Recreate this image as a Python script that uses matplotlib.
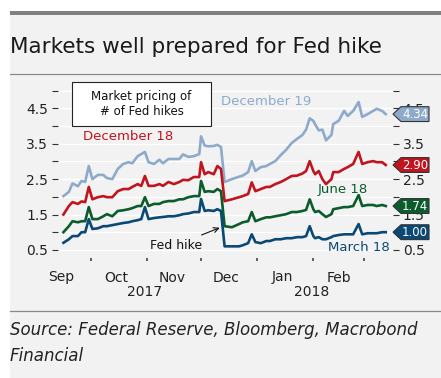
import numpy as np
import pandas as pd
import matplotlib
matplotlib.use('Agg')
import matplotlib.pyplot as plt
import matplotlib.dates as mdates
from matplotlib.patches import Polygon, Rectangle
from matplotlib.lines import Line2D
import matplotlib.transforms as mtransforms

# data
dates = pd.to_datetime([
    '2017-09-16', '2017-09-19', '2017-09-21', '2017-09-24', '2017-09-26', '2017-09-28',
    '2017-09-30', '2017-10-02', '2017-10-05', '2017-10-08', '2017-10-10', '2017-10-13',
    '2017-10-16', '2017-10-19', '2017-10-22', '2017-10-24', '2017-10-27', '2017-10-29',
    '2017-10-31', '2017-11-02', '2017-11-05', '2017-11-08', '2017-11-10', '2017-11-13',
    '2017-11-16', '2017-11-19', '2017-11-21', '2017-11-24', '2017-11-27', '2017-11-30',
    '2017-12-01', '2017-12-03', '2017-12-05', '2017-12-08', '2017-12-10', '2017-12-12',
    '2017-12-14', '2017-12-18', '2017-12-22', '2017-12-24', '2017-12-27', '2017-12-29',
    '2017-12-31', '2018-01-03', '2018-01-06', '2018-01-08', '2018-01-11', '2018-01-14',
    '2018-01-17', '2018-01-20', '2018-01-23', '2018-01-26', '2018-01-28', '2018-01-30',
    '2018-02-01', '2018-02-02', '2018-02-04', '2018-02-06', '2018-02-08', '2018-02-11',
    '2018-02-12', '2018-02-15', '2018-02-18', '2018-02-20', '2018-02-23', '2018-02-26',
    '2018-02-28', '2018-03-03', '2018-03-06', '2018-03-08', '2018-03-11', '2018-03-13',
])

dec19 = [2.02, 2.14, 2.38, 2.30, 2.45, 2.42, 2.87, 2.50, 2.62, 2.62, 2.53, 2.50,
         2.79, 2.93, 2.98, 2.95, 3.15, 3.21, 3.27, 2.98, 2.93, 3.05, 2.95, 3.07,
         3.07, 3.07, 3.20, 3.13, 3.15, 3.21, 3.71, 3.45, 3.43, 3.44, 3.47, 3.41,
         2.42, 2.50, 2.57, 2.60, 2.70, 3.01, 2.73, 2.84, 2.87, 2.93, 3.01, 3.18,
         3.33, 3.52, 3.64, 3.75, 3.90, 4.22, 4.15, 4.05, 3.88, 3.90, 3.60, 3.75,
         4.06, 4.15, 4.43, 4.29, 4.43, 4.68, 4.26, 4.34, 4.43, 4.49, 4.43, 4.34]

dec18 = [1.50, 1.74, 1.85, 1.80, 1.87, 1.85, 2.28, 1.93, 1.99, 2.02, 1.99, 1.99,
         2.16, 2.22, 2.22, 2.28, 2.36, 2.31, 2.59, 2.31, 2.31, 2.36, 2.31, 2.42,
         2.36, 2.42, 2.48, 2.47, 2.56, 2.56, 2.98, 2.64, 2.70, 2.64, 2.87, 2.79,
         1.88, 1.93, 1.99, 2.02, 2.08, 2.41, 2.16, 2.22, 2.28, 2.28, 2.36, 2.42,
         2.50, 2.59, 2.60, 2.66, 2.73, 3.01, 2.73, 2.64, 2.73, 2.50, 2.36, 2.50,
         2.70, 2.70, 2.79, 2.84, 2.93, 3.27, 2.93, 2.98, 3.01, 2.98, 2.98, 2.90]

jun18 = [1.00, 1.17, 1.31, 1.28, 1.31, 1.31, 1.71, 1.37, 1.37, 1.45, 1.51, 1.45,
         1.60, 1.62, 1.65, 1.68, 1.74, 1.74, 1.99, 1.74, 1.80, 1.80, 1.85, 1.88,
         1.88, 1.93, 1.93, 1.99, 2.02, 2.02, 2.45, 2.14, 2.16, 2.14, 2.22, 2.16,
         1.17, 1.14, 1.23, 1.28, 1.31, 1.57, 1.31, 1.37, 1.42, 1.42, 1.45, 1.48,
         1.51, 1.57, 1.57, 1.60, 1.63, 1.93, 1.65, 1.57, 1.60, 1.51, 1.43, 1.51,
         1.65, 1.68, 1.71, 1.71, 1.74, 2.05, 1.74, 1.77, 1.77, 1.74, 1.77, 1.74]

mar18 = [0.70, 0.80, 0.89, 0.89, 1.00, 1.00, 1.37, 1.09, 1.11, 1.17, 1.17, 1.20,
         1.23, 1.26, 1.28, 1.31, 1.34, 1.37, 1.71, 1.37, 1.40, 1.42, 1.43, 1.45,
         1.45, 1.48, 1.51, 1.53, 1.57, 1.57, 1.94, 1.60, 1.62, 1.60, 1.65, 1.60,
         0.60, 0.60, 0.60, 0.63, 0.69, 0.94, 0.72, 0.69, 0.75, 0.75, 0.80, 0.80,
         0.83, 0.83, 0.86, 0.86, 0.89, 1.17, 0.89, 0.83, 0.86, 0.80, 0.80, 0.86,
         0.89, 0.92, 0.94, 0.94, 0.94, 1.23, 0.94, 0.97, 0.97, 0.97, 1.00, 1.00]

series_names = ['December 19', 'December 18', 'June 18', 'March 18']
last_values = ['4.34', '2.90', '1.74', '1.00']
colors = ['#8eaacb', '#c0141e', '#0b5c2c', '#0a4876']

bg = '#f2f2f2'
fig = plt.figure(figsize=(4.41, 3.78), dpi=100)
fig.patch.set_facecolor('white')

# panel background, top bar, separators
fig.patches.append(Rectangle((10 / 441, 0), 1, 1 - 15 / 378, transform=fig.transFigure,
                             facecolor=bg, edgecolor='none', zorder=-10))
fig.patches.append(Rectangle((10 / 441, 1 - 15 / 378), 1, 4 / 378, transform=fig.transFigure,
                             facecolor='#808080', edgecolor='none', zorder=-10))
for yy in [1 - 74 / 378, 1 - 311 / 378]:
    fig.add_artist(Line2D([10 / 441, 1], [yy, yy], color='#8a8a8a', lw=0.9,
                          transform=fig.transFigure, zorder=-5))

fig.text(10 / 441, 1 - 47 / 378, 'Markets well prepared for Fed hike', fontsize=15.5,
         color='#1a1a1a', va='center', ha='left')
fig.text(10 / 441, 1 - 330 / 378, 'Source: Federal Reserve, Bloomberg, Macrobond',
         fontsize=12, style='italic', color='#222222', va='center', ha='left')
fig.text(10 / 441, 1 - 356 / 378, 'Financial', fontsize=12, style='italic',
         color='#222222', va='center', ha='left')

ax = fig.add_axes([58 / 441, 1 - 258 / 378, 335 / 441, 169 / 378])
ax.set_facecolor(bg)
for s in ax.spines.values():
    s.set_visible(False)

for vals, c in zip([dec19, dec18, jun18, mar18], colors):
    ax.plot(dates, vals, color=c, lw=1.9, solid_joinstyle='round', zorder=3)

ax.set_xlim(pd.Timestamp('2017-09-13'), pd.Timestamp('2018-03-17'))
ax.set_ylim(0.27, 5.05)

# y axis on both sides
yt = np.arange(0.5, 5.01, 0.5)
ax.set_yticks(yt)
ax.set_yticklabels(['%.1f' % v if (v * 2) % 2 == 1 else '' for v in yt])
ax.tick_params(axis='y', which='both', length=4, width=0.8, color='#333333',
               labelsize=10, labelcolor='#222222', left=True, right=True,
               labelleft=True, labelright=True, pad=3)
ax.grid(axis='y', color='white', lw=1.0, zorder=1)

# x axis: month starts as small ticks, labels mid-month
ax.xaxis.set_major_locator(mdates.MonthLocator())
ax.xaxis.set_major_formatter(plt.NullFormatter())
ax.xaxis.set_minor_locator(mdates.MonthLocator(bymonth=[9, 10, 11, 12, 1, 2], bymonthday=15))
ax.xaxis.set_minor_formatter(mdates.DateFormatter('%b'))
ax.tick_params(axis='x', which='major', length=2, width=1.2, color='#444444')
ax.tick_params(axis='x', which='minor', length=0, labelsize=10, labelcolor='#222222', pad=9)

ax.text(pd.Timestamp('2017-10-31'), -0.2, '2017', transform=ax.get_xaxis_transform(),
        ha='center', va='center', fontsize=10, color='#222222')
ax.text(pd.Timestamp('2018-01-31'), -0.2, '2018', transform=ax.get_xaxis_transform(),
        ha='center', va='center', fontsize=10, color='#222222')

# series labels
ax.text(pd.Timestamp('2018-01-06'), 4.71, 'December 19', color=colors[0], fontsize=9.5,
        ha='center', va='center')
ax.text(pd.Timestamp('2017-10-22'), 3.72, 'December 18', color=colors[1], fontsize=9.5,
        ha='center', va='center')
ax.text(pd.Timestamp('2018-02-17'), 2.22, 'June 18', color=colors[2], fontsize=9.5,
        ha='center', va='center')
ax.text(pd.Timestamp('2018-02-26'), 0.58, 'March 18', color=colors[3], fontsize=9.5,
        ha='center', va='center')

# legend-like box
ax.add_patch(Rectangle((14 / 335, 132 / 169), 139 / 335, 44 / 169, transform=ax.transAxes,
                       facecolor='white', edgecolor='#222222', lw=0.8, clip_on=False,
                       zorder=5))
ax.text(83.5 / 335, 154 / 169, 'Market pricing of\n# of Fed hikes', fontsize=8.5,
        transform=ax.transAxes, ha='center', va='center', color='#111111',
        linespacing=1.25, zorder=6)

ax.annotate('Fed hike', xy=(pd.Timestamp('2017-12-12'), 1.14),
            xytext=(pd.Timestamp('2017-11-17'), 0.63), fontsize=9, ha='center', va='center',
            color='#111111',
            arrowprops=dict(arrowstyle='->', color='#111111', lw=0.8, shrinkA=2, shrinkB=1))

# value tags on the right
trans = mtransforms.blended_transform_factory(ax.transAxes, ax.transData)
w = 1 / 335
for val, lab, c in zip([dec19[-1], dec18[-1], jun18[-1], mar18[-1]], last_values, colors):
    h = 0.21
    poly = Polygon([(1.0, val), (1.0 + 8 * w, val + h), (1.0 + 36 * w, val + h),
                    (1.0 + 36 * w, val - h), (1.0 + 8 * w, val - h)], closed=True,
                   transform=trans, facecolor=c, edgecolor='#333333', lw=0.8,
                   clip_on=False, zorder=6)
    ax.add_patch(poly)
    ax.text(1.0 + 22 * w, val, lab, transform=trans, color='white', fontsize=8.5,
            ha='center', va='center', clip_on=False, zorder=7)

fig.savefig('out.png', dpi=100, facecolor=fig.get_facecolor())
